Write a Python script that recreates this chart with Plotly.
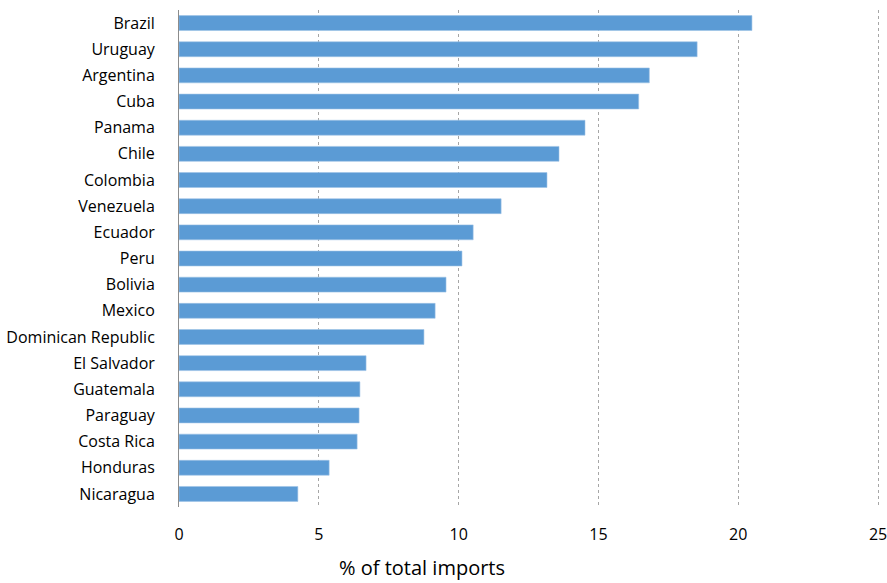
import plotly.graph_objects as go

# Share of total imports by country (%)
countries = [
    "Brazil", "Uruguay", "Argentina", "Cuba", "Panama", "Chile", "Colombia",
    "Venezuela", "Ecuador", "Peru", "Bolivia", "Mexico", "Dominican Republic",
    "El Salvador", "Guatemala", "Paraguay", "Costa Rica", "Honduras", "Nicaragua",
]
shares = [
    20.49, 18.53, 16.82, 16.44, 14.52, 13.59, 13.16,
    11.52, 10.52, 10.12, 9.55, 9.16, 8.76,
    6.69, 6.47, 6.44, 6.37, 5.37, 4.25,
]
x_ticks = [0, 5, 10, 15, 20, 25]

fig = go.Figure(
    go.Bar(
        x=shares,
        y=countries,
        orientation="h",
        marker=dict(color="#5B9BD5", line=dict(color="#9DC3E6", width=0.6)),
        width=0.57,
    )
)

fig.update_layout(
    width=887,
    height=583,
    margin=dict(l=179, r=7, t=10, b=76),
    paper_bgcolor="white",
    plot_bgcolor="white",
    showlegend=False,
    font=dict(family="Open Sans, Lato, sans-serif", size=16, color="#000000"),
)

fig.update_yaxes(
    categoryorder="array",
    categoryarray=countries,
    autorange="reversed",
    showline=True,
    linecolor="#8C8C8C",
    linewidth=1,
    showgrid=False,
    ticks="",
    ticklabelstandoff=20,
    tickfont=dict(size=16),
    automargin=False,
)

fig.update_xaxes(
    range=[0, 25.07],
    tickvals=x_ticks,
    ticktext=[str(v) for v in x_ticks],
    showline=False,
    zeroline=False,
    showgrid=True,
    gridcolor="#A6A6A6",
    griddash="dot",
    gridwidth=1,
    ticks="",
    ticklabelstandoff=16,
    ticklabeloverflow="allow",
    tickfont=dict(size=16),
    automargin=False,
)

fig.add_annotation(
    text="% of total imports",
    xref="paper",
    yref="paper",
    x=0.346,
    y=-(583 - 507) / 497,
    xanchor="center",
    yanchor="bottom",
    showarrow=False,
    font=dict(size=20, color="#000000"),
)

fig.write_html("out.html")
